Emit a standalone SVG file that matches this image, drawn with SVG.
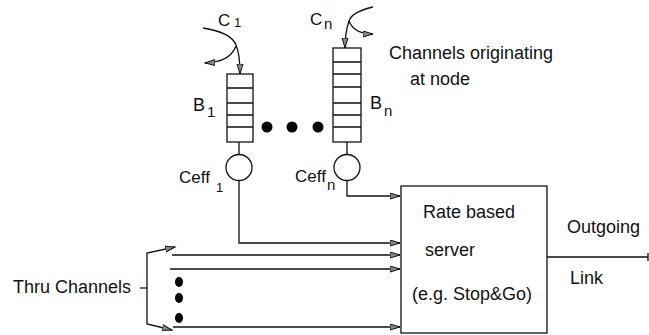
<svg xmlns="http://www.w3.org/2000/svg" width="649" height="335" viewBox="0 0 649 335">
<style>
  .ln { fill: none; stroke: #111; stroke-width: 1.3; }
  .box { fill: #fff; stroke: #111; stroke-width: 1.3; }
  .t { font-family: "Liberation Sans", Arial, sans-serif; fill: #111; }
  .t18 { font-size: 18px; }
  .t17 { font-size: 17px; }
  .t16 { font-size: 16px; }
  .s13 { font-size: 13px; }
  .s15 { font-size: 15px; }
  .dot { fill: #000; }
  .arr { fill: none; stroke: #111; stroke-width: 1.3; marker-end: url(#ah); }
</style>
<defs>
  <marker id="ah" markerUnits="userSpaceOnUse" markerWidth="12" markerHeight="8" refX="10" refY="3.5" orient="auto">
    <path d="M0,0.5 L10,3.5 L0,6.5 Z" fill="#888" stroke="#111" stroke-width="1"/>
  </marker>
</defs>
<rect width="649" height="335" fill="#fff"/>

<g id="buffer-b1">
  <rect class="box" x="227" y="74" width="26" height="68"/>
  <path class="ln" d="M227,88 H253 M227,103 H253 M227,115 H253 M227,127 H253"/>
  <text class="t t18" x="193" y="111">B</text>
  <text class="t s15" x="207" y="117">1</text>
</g>

<g id="buffer-bn">
  <rect class="box" x="333" y="48" width="28" height="94"/>
  <path class="ln" d="M333,62 H361 M333,74 H361 M333,87 H361 M333,103 H361 M333,115 H361 M333,127 H361"/>
  <text class="t t18" x="370" y="109">B</text>
  <text class="t s15" x="384" y="116">n</text>
</g>

<g id="ellipsis-buffers">
  <circle class="dot" cx="267" cy="127" r="5.5"/>
  <circle class="dot" cx="292" cy="127" r="5.5"/>
  <circle class="dot" cx="318" cy="127" r="5.5"/>
</g>

<g id="ceff-1">
  <circle class="box" cx="239" cy="167.5" r="13"/>
  <text class="t t17" x="179" y="183">Ceff</text>
  <text class="t s13" x="216" y="192">1</text>
</g>

<g id="ceff-n">
  <circle class="box" cx="347" cy="167.5" r="13"/>
  <text class="t t17" x="295" y="182">Ceff</text>
  <text class="t s15" x="327" y="190">n</text>
</g>

<g id="server">
  <rect class="box" x="401" y="186" width="146" height="147"/>
  <text class="t t18" x="423" y="218">Rate based</text>
  <text class="t t18" x="425" y="256">server</text>
  <text class="t t18" x="412" y="300">(e.g. Stop&amp;Go)</text>
</g>

<g id="channel-labels">
  <text class="t t17" x="218" y="26">C</text>
  <text class="t s13" x="234" y="27">1</text>
  <text class="t t17" x="310" y="25">C</text>
  <text class="t s15" x="324" y="29">n</text>
  <text class="t t18" x="389" y="59">Channels originating</text>
  <text class="t t18" x="410" y="85">at node</text>
</g>

<g id="thru-channels">
  <text class="t t18" x="13" y="293">Thru Channels</text>
  <ellipse class="dot" cx="179" cy="282" rx="4" ry="5"/>
  <ellipse class="dot" cx="179" cy="298" rx="4" ry="5"/>
  <ellipse class="dot" cx="179" cy="318" rx="4" ry="5"/>
</g>

<g id="outgoing-link">
  <text class="t t18" x="567" y="233">Outgoing</text>
  <text class="t t18" x="570" y="284">Link</text>
</g>

<g id="connectors">
  <path class="arr" d="M203,28 C222,31 233,37 236,45 C239,52 240,62 240,74"/>
  <path class="arr" d="M236,46 C232,56 224,62 205,63"/>
  <path class="arr" d="M373,7 C360,10 351,14 349,21 C346,30 345,40 345,48"/>
  <path class="arr" d="M349,21 C352,29 359,34 373,34"/>
  <path class="ln" d="M239,142 V154.5 M347,142 V154.5"/>
  <path class="arr" d="M239,180.5 V243 H400"/>
  <path class="arr" d="M347,180.5 V196 H400"/>
  <path class="arr" d="M172,255 H400"/>
  <path class="arr" d="M170,269 H400"/>
  <path class="arr" d="M173,327 H400"/>
  <path class="arr" d="M147,288 V253 L175,247"/>
  <path class="arr" d="M147,288 V324 L172,330"/>
  <path class="ln" d="M140,288 H147"/>
  <path class="ln" d="M547,257 H648 M648,253 V261"/>
</g>
</svg>
